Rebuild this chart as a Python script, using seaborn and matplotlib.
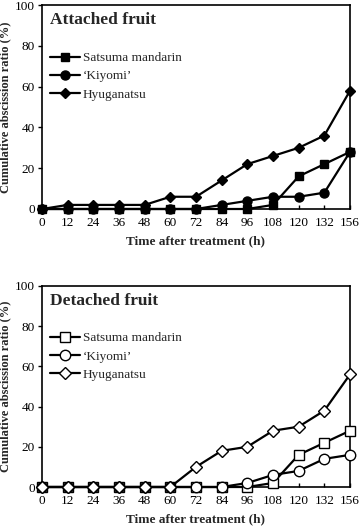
import matplotlib
matplotlib.use("Agg")
import matplotlib.pyplot as plt
import seaborn as sns
import pandas as pd

times = [0, 12, 24, 36, 48, 60, 72, 84, 96, 108, 120, 132, 156]
cultivars = ["Satsuma mandarin", "\u2018Kiyomi\u2019", "Hyuganatsu"]

att_satsuma = [0, 0, 0, 0, 0, 0, 0, 0, 0, 2, 16, 22, 28]
att_kiyomi = [0, 0, 0, 0, 0, 0, 0, 2, 4, 6, 6, 8, 28]
att_hyuga = [0, 2, 2, 2, 2, 6, 6, 14, 22, 26, 30, 36, 58]

det_satsuma = [0, 0, 0, 0, 0, 0, 0, 0, 0, 2, 16, 22, 28]
det_kiyomi = [0, 0, 0, 0, 0, 0, 0, 0, 2, 6, 8, 14, 16]
det_hyuga = [0, 0, 0, 0, 0, 0, 10, 18, 20, 28, 30, 38, 56]

titles = ["Attached fruit", "Detached fruit"]

sns.set_theme(style="ticks")
plt.rcParams["font.family"] = ["Liberation Serif", "DejaVu Serif"]

fig = plt.figure(figsize=(3.6, 5.28), dpi=100)
ax1 = fig.add_axes([42/360, 1-209/528, 308/360, 204/528])
ax2 = fig.add_axes([42/360, 1-487/528, 308/360, 201/528])

markers = ["s", "o", "D"]
msizes = [6, 6.5, 5]

panels = [
    (ax1, [att_satsuma, att_kiyomi, att_hyuga], "black", titles[0]),
    (ax2, [det_satsuma, det_kiyomi, det_hyuga], "white", titles[1]),
]

pos = list(range(len(times)))
for ax, series, fc, title in panels:
    for name, vals, m, ms in zip(cultivars, series, markers, msizes):
        df = pd.DataFrame({"pos": pos, "val": vals})
        sns.lineplot(data=df, x="pos", y="val", ax=ax, color="black",
                     marker=m, markersize=ms + (1 if fc == "white" else 0),
                     markerfacecolor=fc, markeredgecolor="black",
                     markeredgewidth=1.0, linewidth=1.6, label=name,
                     clip_on=False, zorder=3)
    ax.set_xlim(0, 12)
    ax.set_ylim(0, 100)
    ax.set_xticks(pos)
    ax.set_xticklabels([str(t) for t in times])
    ax.set_yticks([0, 20, 40, 60, 80, 100])
    ax.tick_params(axis="x", direction="in", length=3, width=1, labelsize=9.5,
                   pad=6, color="black", labelcolor="black")
    ax.tick_params(axis="y", direction="out", length=3, width=1, labelsize=9.5,
                   pad=2, color="black", labelcolor="black")
    for sp in ax.spines.values():
        sp.set_visible(True)
        sp.set_linewidth(1.2)
        sp.set_color("black")
    ax.set_xlabel("Time after treatment (h)", fontsize=9.5, fontweight="bold", labelpad=4)
    ax.set_ylabel("Cumulative abscission ratio (%)", fontsize=9, fontweight="bold", labelpad=3)
    ax.text(0.025, 0.965, title, transform=ax.transAxes, ha="left", va="top",
            fontsize=12.5, fontweight="bold")
    ax.legend(loc="upper left", bbox_to_anchor=(0.025, 0.77), frameon=False,
              fontsize=9.5, handlelength=2.3, handletextpad=0.2,
              labelspacing=0.45, borderpad=0, borderaxespad=0, numpoints=1)

fig.savefig("out.png", dpi=100)
